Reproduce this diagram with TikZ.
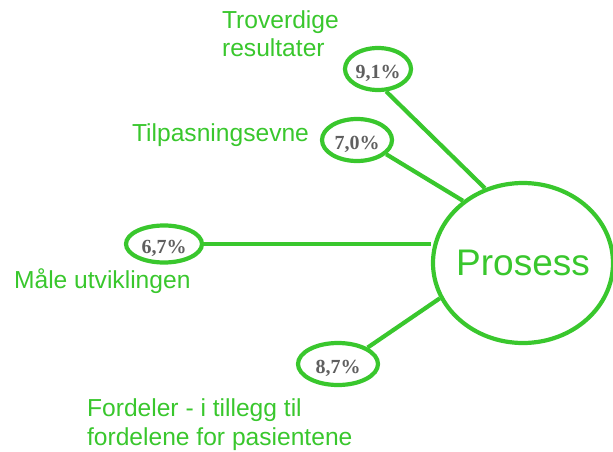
\documentclass[tikz,border=0pt]{standalone}
\usepackage{fontspec}
\setmainfont{Liberation Sans}
\newfontfamily\pctfont{Liberation Serif}
\usetikzlibrary{shapes.geometric}
\definecolor{lgreen}{RGB}{57,199,45}
\definecolor{pgray}{RGB}{95,95,95}
\newcommand\pcval[1]{\raisebox{-4pt}[\height][\depth]{#1\%}}

\begin{document}
\begin{tikzpicture}[x=1pt, y=-1pt, line width=4.2pt, draw=lgreen,
    pct/.style={ellipse, draw, inner sep=0pt, text=pgray, font=\pctfont\bfseries\fontsize{20}{20}\selectfont},
    lbl/.style={text=lgreen, font=\fontsize{24.6}{28.5}\selectfont, align=left, inner sep=0pt}]
        \useasboundingbox (0,0) rectangle (613,452);

        \node[ellipse, draw, inner sep=0pt, text=lgreen, minimum width=180pt, minimum height=160pt, font=\fontsize{37}{37}\selectfont] (prosess) at (523,263) {\makebox[100pt]{Prosess}};

        \node[pct, minimum width=66pt, minimum height=42pt] (p91) at (378,69) {\pcval{9,1}};
        \node[pct, minimum width=70pt, minimum height=42pt] (p70) at (357,140) {\pcval{7,0}};
        \node[pct, minimum width=76pt, minimum height=37pt] (p67) at (164,244) {\pcval{6,7}};
        \node[pct, minimum width=80pt, minimum height=42pt] (p87) at (338,364) {\pcval{8,7}};

        % base anchor of a two-line node is its last line
        \node[lbl, anchor=base west] (trov) at (220,57) {Troverdige\\resultater};
        \node[lbl, anchor=base west] (tilp) at (130,141) {Tilpasningsevne};
        \node[lbl, anchor=base west] (maale) at (12,288) {Måle utviklingen};
        \node[lbl, anchor=base west] (ford) at (85,445) {Fordeler - i tillegg til\\fordelene for pasientene};

        \draw (p91.290) -- (prosess.117);
        \draw (p70.334) -- (prosess.134);
        \draw (p67.east) -- (p67.east -| prosess.west);
        \draw (p87.29) -- (prosess.203);
    \end{tikzpicture}
\end{document}
